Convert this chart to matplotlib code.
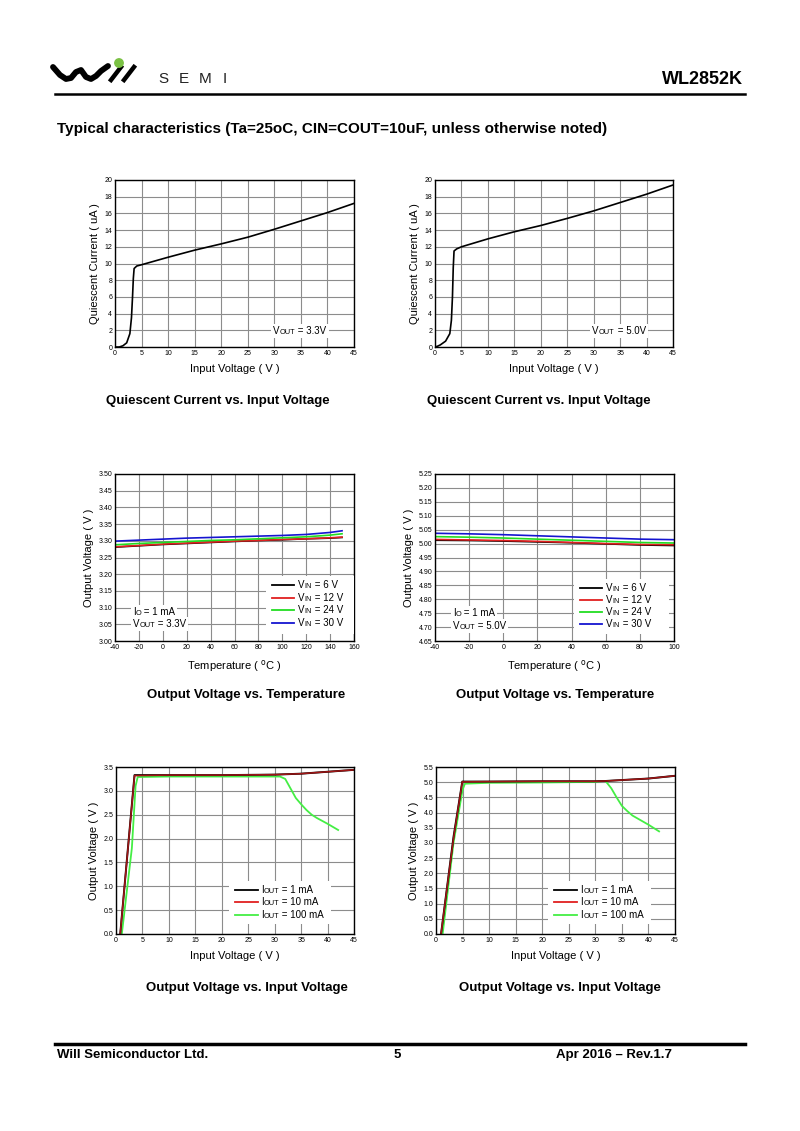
import matplotlib
matplotlib.use("Agg")
import matplotlib.pyplot as plt
from matplotlib.offsetbox import TextArea, HPacker, AnnotationBbox
from matplotlib.patches import Rectangle, Circle

plt.rcParams['font.family'] = ['Liberation Sans', 'DejaVu Sans']
plt.rcParams['axes.unicode_minus'] = False

# ---------------- data ----------------
# Quiescent current vs input voltage, VOUT = 3.3V
iq33_vin = [0.0, 0.8, 1.5, 2.2, 2.8, 3.1, 3.3, 3.45, 3.6, 4.1, 5, 10, 15, 20, 25, 30, 35, 40, 45]
iq33_ua = [0.0, 0.0, 0.15, 0.5, 1.6, 3.5, 6.0, 8.2, 9.4, 9.7, 9.85, 10.75, 11.6, 12.35, 13.15, 14.1, 15.1, 16.1, 17.2]
# Quiescent current vs input voltage, VOUT = 5.0V
iq50_vin = [0.0, 0.5, 1.0, 2.0, 2.8, 3.1, 3.3, 3.45, 3.6, 4.1, 5, 10, 15, 20, 25, 30, 35, 40, 45]
iq50_ua = [0.0, 0.1, 0.25, 0.7, 1.6, 3.2, 6.0, 9.5, 11.5, 11.75, 12.0, 12.95, 13.8, 14.55, 15.4, 16.3, 17.3, 18.3, 19.4]

# Output voltage vs temperature, VOUT = 3.3V
t33 = [-40, -20, 0, 20, 40, 60, 80, 100, 120, 140, 150]
vt33_6 = [3.281, 3.285, 3.289, 3.292, 3.295, 3.298, 3.301, 3.303, 3.306, 3.308, 3.310]
vt33_12 = [3.282, 3.286, 3.290, 3.293, 3.296, 3.299, 3.301, 3.304, 3.306, 3.309, 3.311]
vt33_24 = [3.288, 3.292, 3.295, 3.298, 3.301, 3.303, 3.306, 3.309, 3.312, 3.317, 3.321]
vt33_30 = [3.299, 3.302, 3.305, 3.308, 3.310, 3.312, 3.314, 3.316, 3.319, 3.325, 3.330]
# Output voltage vs temperature, VOUT = 5.0V
t50 = [-40, -20, 0, 20, 40, 60, 80, 100]
vt50_6 = [5.012, 5.011, 5.009, 5.006, 5.003, 4.999, 4.995, 4.993]
vt50_12 = [5.015, 5.013, 5.011, 5.008, 5.004, 5.000, 4.997, 4.996]
vt50_24 = [5.025, 5.023, 5.020, 5.016, 5.012, 5.008, 5.004, 5.002]
vt50_30 = [5.037, 5.035, 5.032, 5.028, 5.024, 5.020, 5.016, 5.014]

# Output voltage vs input voltage, VOUT = 3.3V
vi33_a = [0.8, 3.5, 10, 20, 30, 35, 40, 45]
vo33_1 = [0.0, 3.33, 3.33, 3.33, 3.34, 3.36, 3.40, 3.44]
vo33_10 = [0.0, 3.32, 3.33, 3.33, 3.34, 3.36, 3.40, 3.44]
vi33_c = [1.1, 3.0, 3.7, 4.1, 10, 20, 30, 31, 32, 33, 34, 35, 36, 37, 38, 40, 42]
vo33_100 = [0.0, 1.8, 3.1, 3.29, 3.30, 3.30, 3.30, 3.30, 3.25, 3.05, 2.85, 2.72, 2.60, 2.50, 2.43, 2.31, 2.18]
# Output voltage vs input voltage, VOUT = 5.0V
vi50_a = [0.95, 3.3, 4.95, 10, 20, 30, 32, 35, 40, 45]
vo50_1 = [0.0, 3.2, 5.02, 5.02, 5.03, 5.03, 5.04, 5.07, 5.12, 5.21]
vo50_10 = [0.0, 3.15, 5.01, 5.02, 5.03, 5.03, 5.04, 5.07, 5.12, 5.21]
vi50_c = [1.25, 3.3, 5.0, 5.45, 10, 20, 30, 31.5, 32, 33, 34, 35, 36, 37, 38, 40, 42]
vo50_100 = [0.0, 3.0, 4.75, 4.95, 4.98, 4.99, 5.01, 5.04, 5.02, 4.80, 4.50, 4.22, 4.05, 3.90, 3.80, 3.60, 3.38]

# ---------------- figure ----------------
W, H = 800, 1131
fig = plt.figure(figsize=(8, 11.31), dpi=100)
bg = fig.add_axes([0, 0, 1, 1])
bg.set_xlim(0, W)
bg.set_ylim(H, 0)
bg.axis('off')


def px_axes(l, t, r, b):
    return fig.add_axes([l / W, 1 - b / H, (r - l) / W, (b - t) / H])


def rich(ax, x, y, parts, coords='axes fraction', align=(0, 0.5), bgc=None, z=5):
    kids = [TextArea(s, textprops=dict(size=sz, color='black')) for s, sz in parts]
    box = HPacker(children=kids, align='baseline', pad=0, sep=0)
    ab = AnnotationBbox(box, (x, y), xycoords=coords, box_alignment=align,
                        frameon=bgc is not None, pad=0.15, zorder=z)
    if bgc is not None:
        ab.patch.set_facecolor(bgc)
        ab.patch.set_edgecolor('none')
    ax.add_artist(ab)


def style(ax, xlim, xt, ylim, yt, xlabel, ylabel, yfmt):
    ax.set_xlim(*xlim)
    ax.set_ylim(*ylim)
    ax.set_xticks(xt)
    ax.set_yticks(yt)
    ax.set_yticklabels([yfmt.format(v) for v in yt])
    ax.tick_params(labelsize=5, length=0, pad=2)
    ax.grid(True, color='#8c8c8c', lw=0.8)
    ax.set_axisbelow(True)
    for s in ax.spines.values():
        s.set_linewidth(1.0)
    ax.set_xlabel(xlabel, fontsize=8, labelpad=5)
    ax.set_ylabel(ylabel, fontsize=8, labelpad=3)


def legend(ax, x0, y0, dy, entries, sub, bx):
    ax.add_patch(Rectangle((bx[0], bx[1]), bx[2], bx[3], transform=ax.transAxes,
                           facecolor='white', edgecolor='none', zorder=3))
    for i, (col, val) in enumerate(entries):
        y = y0 - i * dy
        ax.plot([x0, x0 + 0.095], [y, y], transform=ax.transAxes, color=col, lw=1.3, zorder=4)
        rich(ax, x0 + 0.11, y, [('V' if sub == 'IN' else 'I', 7), (sub, 5.3), (' = ' + val, 7)])


# ---- row 1: quiescent current ----
for (l, r), vin, iq, vout in [((115, 354), iq33_vin, iq33_ua, '3.3V'), ((435, 673), iq50_vin, iq50_ua, '5.0V')]:
    ax = px_axes(l, 180, r, 347)
    ax.plot(vin, iq, color='black', lw=1.2)
    style(ax, (0, 45), range(0, 46, 5), (0, 20), range(0, 21, 2),
          'Input Voltage ( V )', 'Quiescent Current ( uA )', '{:d}')
    rich(ax, 0.885, 0.095, [('V', 7), ('OUT', 5.3), (' = ' + vout, 7)], align=(1, 0.5), bgc='white')

# ---- row 2: output voltage vs temperature ----
cols = ['black', '#e02020', '#22dd22', '#1515d0']
ax = px_axes(115, 474, 354, 641)
for v, c in zip([vt33_6, vt33_12, vt33_24, vt33_30], cols):
    ax.plot(t33, v, color=c, lw=1.2)
style(ax, (-40, 160), range(-40, 161, 20), (3.0, 3.5), [3.0 + 0.05 * i for i in range(11)],
      'Temperature ( $^{\\rm o}$C )', 'Output Voltage ( V )', '{:.2f}')
legend(ax, 0.655, 0.335, 0.075, list(zip(cols, ['6 V', '12 V', '24 V', '30 V'])), 'IN',
       (0.63, 0.04, 0.37, 0.35))
rich(ax, 0.075, 0.175, [('I', 7), ('O', 5.3), (' = 1 mA', 7)], bgc='white')
rich(ax, 0.075, 0.10, [('V', 7), ('OUT', 5.3), (' = 3.3V', 7)], bgc='white')

ax = px_axes(435, 474, 674, 641)
for v, c in zip([vt50_6, vt50_12, vt50_24, vt50_30], cols):
    ax.plot(t50, v, color=c, lw=1.2)
style(ax, (-40, 100), range(-40, 101, 20), (4.65, 5.25), [4.65 + 0.05 * i for i in range(13)],
      'Temperature ( $^{\\rm o}$C )', 'Output Voltage ( V )', '{:.2f}')
legend(ax, 0.605, 0.315, 0.072, list(zip(cols, ['6 V', '12 V', '24 V', '30 V'])), 'IN',
       (0.58, 0.04, 0.40, 0.33))
rich(ax, 0.075, 0.165, [('I', 7), ('O', 5.3), (' = 1 mA', 7)], bgc='white')
rich(ax, 0.075, 0.092, [('V', 7), ('OUT', 5.3), (' = 5.0V', 7)], bgc='white')

# ---- row 3: output voltage vs input voltage ----
for (l, r), xa, y1, y10, xc, y100, ymax in [
        ((116, 354), vi33_a, vo33_1, vo33_10, vi33_c, vo33_100, 3.5),
        ((436, 675), vi50_a, vo50_1, vo50_10, vi50_c, vo50_100, 5.5)]:
    ax = px_axes(l, 767, r, 934)
    ax.plot(xc, y100, color='#44ee44', lw=1.3)
    ax.plot(xa, y1, color='black', lw=1.4)
    ax.plot(xa, y10, color='#a01515', lw=1.1)
    n = int(round(ymax / 0.5))
    style(ax, (0, 45), range(0, 46, 5), (0, ymax), [0.5 * i for i in range(n + 1)],
          'Input Voltage ( V )', 'Output Voltage ( V )', '{:.1f}')
    x0 = 0.50 if ymax < 4 else 0.495
    legend(ax, x0, 0.265, 0.075, list(zip(['black', '#e02020', '#44ee44'], ['1 mA', '10 mA', '100 mA'])),
           'OUT', (x0 - 0.025, 0.06, 0.43, 0.26))

# ---- page decorations ----
# logo
bg.plot([53, 60, 66, 71, 76, 81, 86, 91, 96, 101, 108],
        [67, 75, 79, 78, 72, 70, 77, 79, 76, 71, 66], color='black', lw=4.2, solid_capstyle='round')
bg.plot([111, 121], [80, 67], color='black', lw=3.2)
bg.plot([124, 134], [80, 67], color='black', lw=3.2)
bg.add_patch(Circle((119, 63), 4.2, color='#7ac143', zorder=5))
for lx, ch in zip([163, 184, 205, 225], 'SEMI'):
    bg.text(lx, 79, ch, fontsize=11, va='center', ha='center', color='#222222')
bg.text(743, 79, 'WL2852K', fontsize=13, fontweight='bold', ha='right', va='center')
bg.plot([55, 745], [94, 94], color='black', lw=1.8)
bg.text(57, 129, 'Typical characteristics (Ta=25oC, CIN=COUT=10uF, unless otherwise noted)',
        fontsize=11, fontweight='bold', ha='left', va='center')

caps = [(218, 401, 'Quiescent Current vs. Input Voltage'), (539, 401, 'Quiescent Current vs. Input Voltage'),
        (246, 695, 'Output Voltage vs. Temperature'), (555, 695, 'Output Voltage vs. Temperature'),
        (247, 988, 'Output Voltage vs. Input Voltage'), (560, 988, 'Output Voltage vs. Input Voltage')]
for x, y, s in caps:
    bg.text(x, y, s, fontsize=9.5, fontweight='bold', ha='center', va='center')

bg.plot([55, 745], [1044, 1044], color='black', lw=2.5)
narrow = ['Liberation Sans Narrow', 'Liberation Sans', 'DejaVu Sans']
bg.text(57, 1055, 'Will Semiconductor Ltd.', fontsize=9.5, fontweight='bold', family=narrow, ha='left', va='center')
bg.text(397, 1055, '5', fontsize=9.5, fontweight='bold', family=narrow, ha='center', va='center')
bg.text(672, 1055, 'Apr 2016 \u2013 Rev.1.7', fontsize=9.5, fontweight='bold', family=narrow, ha='right', va='center')

fig.savefig('out.png', dpi=100)
